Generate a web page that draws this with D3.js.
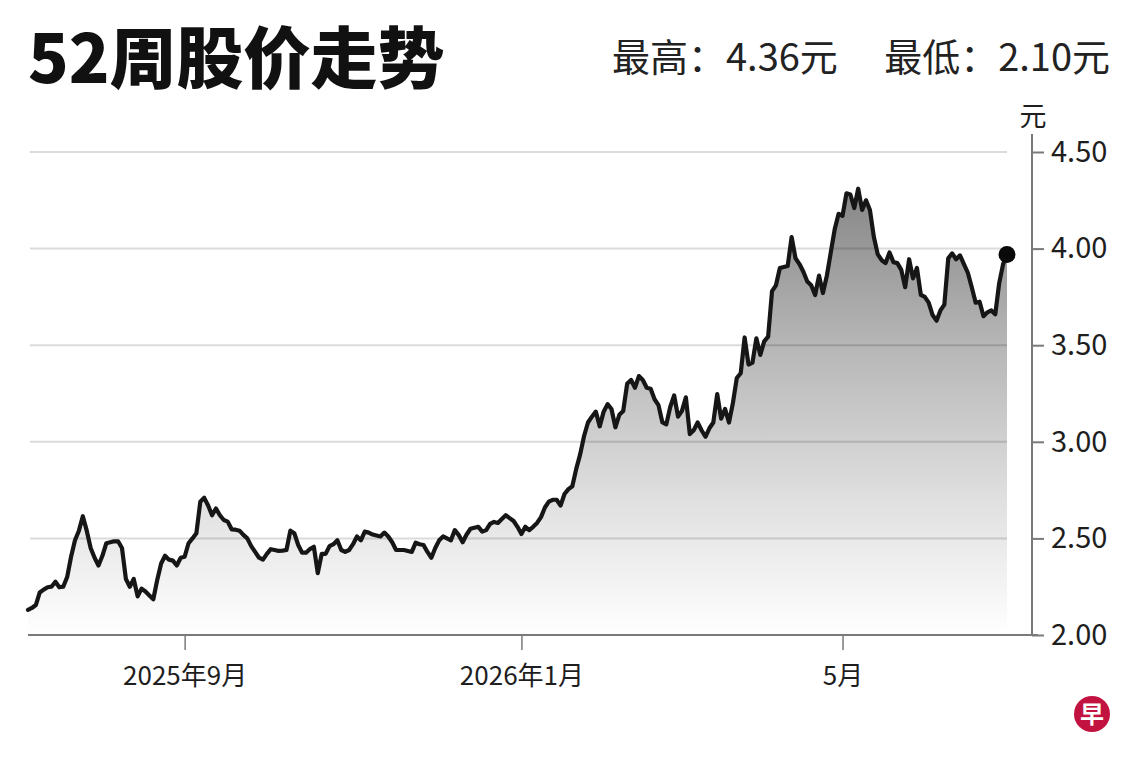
<!DOCTYPE html>
<html>
<head>
<meta charset="utf-8">
<script src="https://cdn.jsdelivr.net/npm/d3@7"></script>
<style>
  html, body { margin: 0; padding: 0; background: #fff; }
  svg { display: block; font-family: "Noto Sans CJK SC", "Noto Sans", sans-serif; }
</style>
</head>
<body>
<svg id="chart" width="1140" height="760"></svg>
<script>
// ---------- data ----------
const titleText = "52周股价走势";
const highText = "最高：4.36元";
const lowText = "最低：2.10元";
const unitLabel = "元";

// trading-session index (0 = first session of the 52-week window)
const sessionCount = 250;
const monthTickSessions = [40, 126, 208];
const monthTickLabels = ["2025年9月", "2026年1月", "5月"];

const priceTicks = [2.0, 2.5, 3.0, 3.5, 4.0, 4.5];

// closing price per session (元)
const closePrices = [
  2.13, 2.14, 2.155, 2.22, 2.235, 2.247, 2.25, 2.276, 2.247, 2.25,
  2.30, 2.405, 2.49, 2.54, 2.615, 2.54, 2.45, 2.40, 2.36, 2.41,
  2.475, 2.48, 2.485, 2.485, 2.45, 2.29, 2.25, 2.29, 2.20, 2.24,
  2.225, 2.205, 2.185, 2.285, 2.37, 2.41, 2.39, 2.385, 2.36, 2.40,
  2.405, 2.475, 2.50, 2.527, 2.69, 2.71, 2.67, 2.62, 2.655, 2.62,
  2.595, 2.587, 2.547, 2.545, 2.54, 2.518, 2.50, 2.46, 2.43, 2.40,
  2.39, 2.42, 2.444, 2.44, 2.435, 2.437, 2.44, 2.54, 2.527, 2.466,
  2.426, 2.426, 2.445, 2.457, 2.32, 2.42, 2.42, 2.46, 2.47, 2.49,
  2.44, 2.43, 2.44, 2.47, 2.51, 2.49, 2.535, 2.53, 2.52, 2.515,
  2.51, 2.53, 2.51, 2.48, 2.44, 2.44, 2.44, 2.435, 2.43, 2.478,
  2.47, 2.466, 2.43, 2.40, 2.45, 2.49, 2.51, 2.50, 2.49, 2.543,
  2.517, 2.48, 2.52, 2.55, 2.555, 2.56, 2.535, 2.543, 2.575, 2.585,
  2.58, 2.60, 2.62, 2.605, 2.59, 2.56, 2.523, 2.56, 2.543, 2.56,
  2.58, 2.61, 2.66, 2.69, 2.70, 2.70, 2.67, 2.73, 2.755, 2.77,
  2.86, 2.935, 3.03, 3.10, 3.13, 3.156, 3.08, 3.156, 3.195, 3.17,
  3.075, 3.14, 3.16, 3.30, 3.32, 3.28, 3.34, 3.32, 3.28, 3.275,
  3.22, 3.19, 3.10, 3.09, 3.18, 3.24, 3.13, 3.16, 3.23, 3.04,
  3.06, 3.10, 3.06, 3.026, 3.07, 3.10, 3.247, 3.12, 3.17, 3.10,
  3.20, 3.33, 3.355, 3.54, 3.40, 3.41, 3.536, 3.45, 3.52, 3.544,
  3.78, 3.81, 3.90, 3.905, 3.91, 4.06, 3.95, 3.92, 3.88, 3.83,
  3.81, 3.76, 3.86, 3.77, 3.86, 3.98, 4.10, 4.18, 4.17, 4.286,
  4.28, 4.21, 4.31, 4.20, 4.25, 4.20, 4.06, 3.97, 3.94, 3.925,
  3.98, 3.93, 3.925, 3.89, 3.80, 3.945, 3.846, 3.90, 3.76, 3.75,
  3.72, 3.656, 3.627, 3.68, 3.71, 3.95, 3.975, 3.945, 3.965, 3.92,
  3.875, 3.80, 3.72, 3.725, 3.65, 3.67, 3.68, 3.66, 3.82, 3.92,
  3.97
];

const data = closePrices.map((v, i) => ({ s: i, v: v }));

// ---------- layout ----------
const svg = d3.select("#chart");
const FONT = '"Noto Sans CJK SC", "Noto Sans", sans-serif';

const plotLeft = 28, plotEnd = 1007, axisX = 1032;
const plotTop = 152, plotBottom = 635;

const x = d3.scaleLinear().domain([0, sessionCount]).range([plotLeft, plotEnd]);
const y = d3.scaleLinear().domain([2.0, 4.5]).range([plotBottom, plotTop]);

// gradient
const defs = svg.append("defs");
const grad = defs.append("linearGradient")
  .attr("id", "areaGrad")
  .attr("gradientUnits", "userSpaceOnUse")
  .attr("x1", 0).attr("x2", 0)
  .attr("y1", y(4.31)).attr("y2", plotBottom);
grad.append("stop").attr("offset", "0%").attr("stop-color", "#878787");
grad.append("stop").attr("offset", "35%").attr("stop-color", "#b6b6b6");
grad.append("stop").attr("offset", "70%").attr("stop-color", "#e0e0e0");
grad.append("stop").attr("offset", "100%").attr("stop-color", "#ffffff");

// area
const area = d3.area()
  .x(d => x(d.s))
  .y0(plotBottom)
  .y1(d => y(d.v))
  .curve(d3.curveLinear);

svg.append("path")
  .datum(data)
  .attr("d", area)
  .attr("fill", "url(#areaGrad)");

// gridlines (above area, semi-transparent)
svg.append("g")
  .selectAll("line")
  .data(priceTicks.filter(t => t > 2.0))
  .join("line")
  .attr("x1", plotLeft + 2)
  .attr("x2", plotEnd)
  .attr("y1", d => y(d))
  .attr("y2", d => y(d))
  .attr("stroke", "rgba(0,0,0,0.14)")
  .attr("stroke-width", 2);

// line
const line = d3.line()
  .x(d => x(d.s))
  .y(d => y(d.v))
  .curve(d3.curveLinear);

svg.append("path")
  .datum(data)
  .attr("d", line)
  .attr("fill", "none")
  .attr("stroke", "#161616")
  .attr("stroke-width", 4.2)
  .attr("stroke-linejoin", "round")
  .attr("stroke-linecap", "round");

// end dot
const last = data[data.length - 1];
svg.append("circle")
  .attr("cx", x(last.s))
  .attr("cy", y(last.v))
  .attr("r", 8.5)
  .attr("fill", "#0a0a0a");

// right axis
svg.append("line")
  .attr("x1", axisX).attr("x2", axisX)
  .attr("y1", plotTop - 18).attr("y2", plotBottom + 1)
  .attr("stroke", "#7a7a7a").attr("stroke-width", 2);

const yAxis = d3.axisRight(y)
  .tickValues(priceTicks)
  .tickFormat(d3.format(".2f"))
  .tickSize(12)
  .tickPadding(7)
  .tickSizeOuter(0);

const yg = svg.append("g")
  .attr("transform", `translate(${axisX},0)`)
  .call(yAxis);
yg.select(".domain").remove();
yg.selectAll(".tick line").attr("stroke", "#7a7a7a").attr("stroke-width", 2);
yg.selectAll(".tick text")
  .attr("fill", "#1e1e1e")
  .style("font-family", FONT)
  .style("font-size", "29px");

// unit label
svg.append("text")
  .attr("x", axisX + 1)
  .attr("y", 126)
  .attr("text-anchor", "middle")
  .attr("fill", "#1e1e1e")
  .style("font-family", FONT)
  .style("font-size", "27px")
  .text(unitLabel);

// bottom axis
const xAxis = d3.axisBottom(x)
  .tickValues(monthTickSessions)
  .tickFormat((d, i) => monthTickLabels[i])
  .tickSize(15)
  .tickPadding(17)
  .tickSizeOuter(0);

const xg = svg.append("g")
  .attr("transform", `translate(0,${plotBottom})`)
  .call(xAxis);
xg.select(".domain").remove();
xg.append("line")
  .attr("x1", plotLeft).attr("x2", axisX + 6)
  .attr("y1", 0).attr("y2", 0)
  .attr("stroke", "#7a7a7a").attr("stroke-width", 2);
xg.selectAll(".tick line").attr("stroke", "#7a7a7a").attr("stroke-width", 1.5);
xg.selectAll(".tick text")
  .attr("fill", "#1e1e1e")
  .style("font-family", FONT)
  .style("font-size", "26px");

// title
svg.append("text")
  .attr("x", 28)
  .attr("y", 83)
  .attr("fill", "#111")
  .style("font-family", FONT)
  .style("font-size", "67px")
  .style("font-weight", 900)
  .text(titleText);

// high / low
svg.append("text")
  .attr("x", 612)
  .attr("y", 71)
  .attr("fill", "#222")
  .style("font-family", FONT)
  .style("font-size", "38px")
  .text(highText);

svg.append("text")
  .attr("x", 1110)
  .attr("y", 71)
  .attr("text-anchor", "end")
  .attr("fill", "#222")
  .style("font-family", FONT)
  .style("font-size", "38px")
  .text(lowText);

// logo
const logo = svg.append("g").attr("transform", "translate(1092,714)");
logo.append("circle").attr("r", 18).attr("fill", "#c2123f");
logo.append("text")
  .attr("text-anchor", "middle")
  .attr("dy", "0.36em")
  .attr("fill", "#fff")
  .style("font-family", FONT)
  .style("font-size", "24px")
  .style("font-weight", 700)
  .text("早");
</script>
</body>
</html>
